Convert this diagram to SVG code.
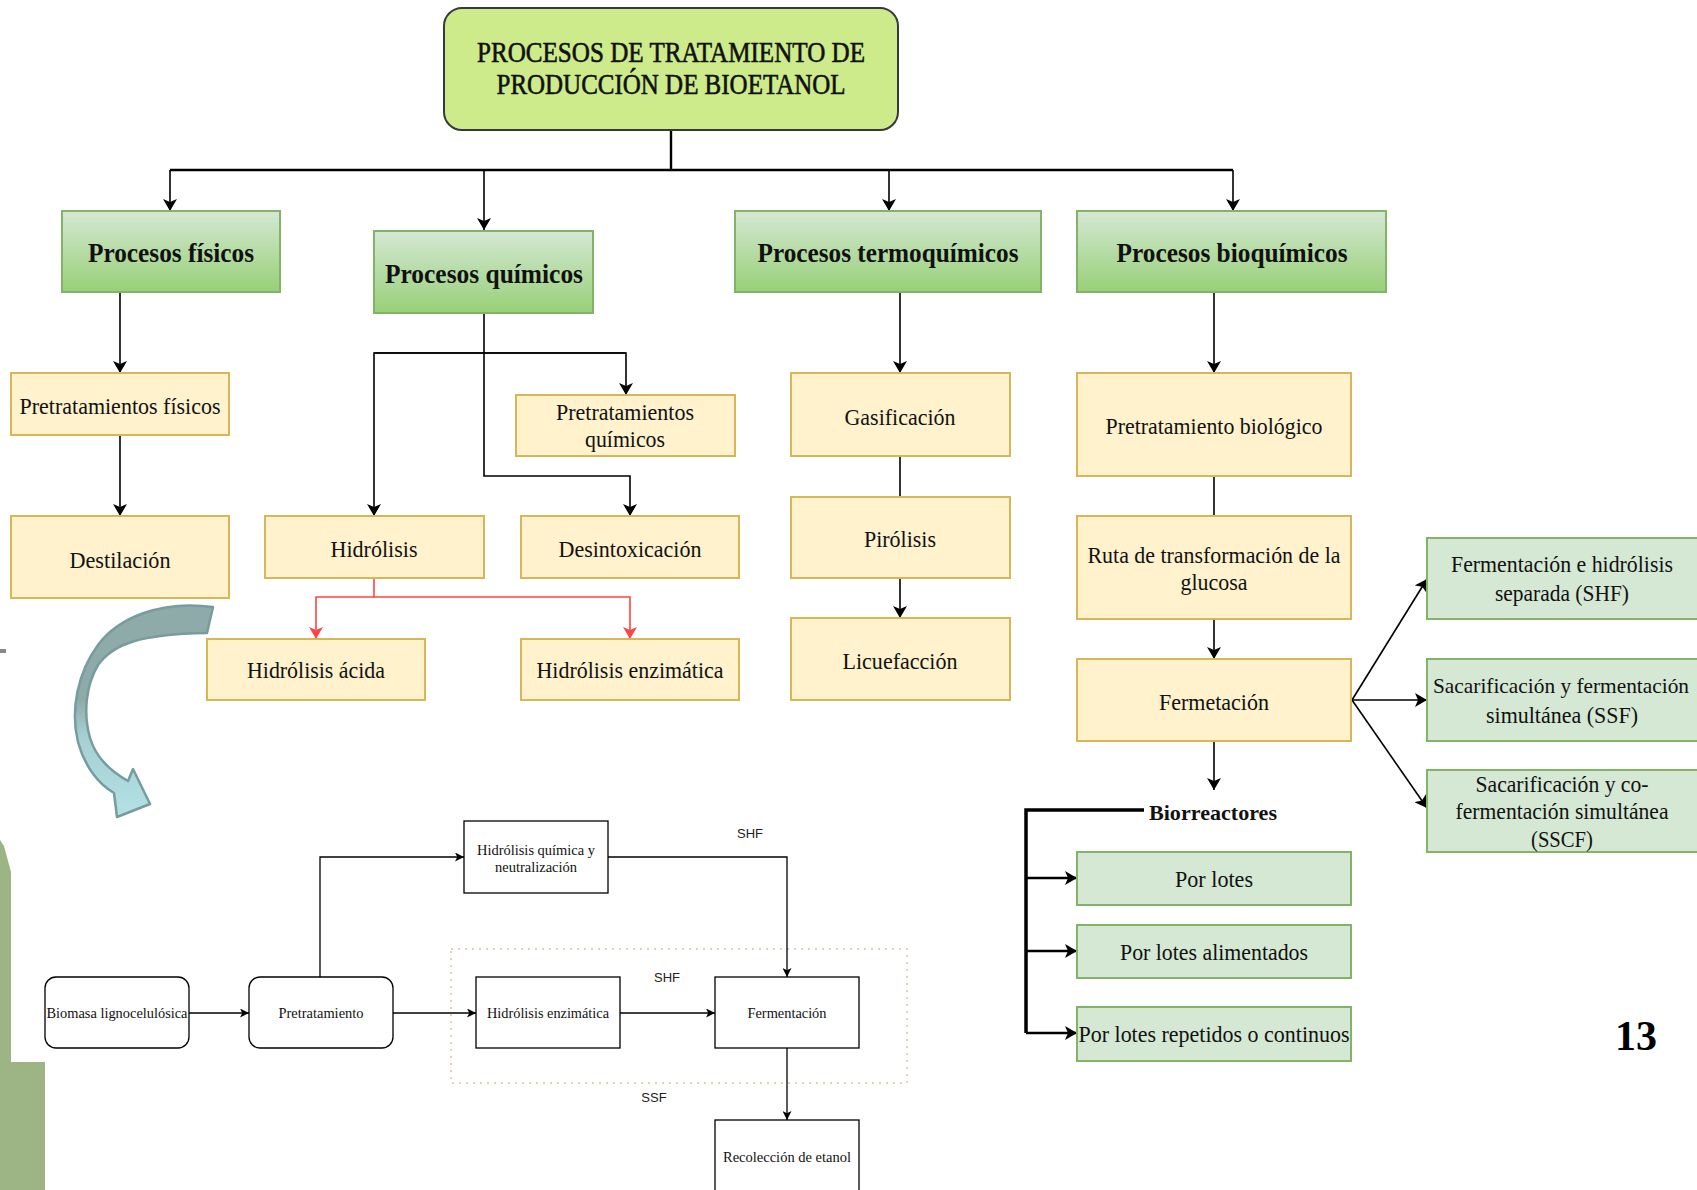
<svg xmlns="http://www.w3.org/2000/svg" width="1697" height="1190" viewBox="0 0 1697 1190">
<style>
.t{font-family:"Liberation Serif","Times New Roman",serif;fill:#111;text-anchor:middle;dominant-baseline:central}
.tb{font-weight:bold}
.yl{fill:#fff2cc;stroke:#d6b656;stroke-width:2}
.gn{fill:#d5e8d4;stroke:#82b366;stroke-width:2}
.gg{fill:url(#gg);stroke:#82b366;stroke-width:2}
.bx{fill:#fff;stroke:#000;stroke-width:1.3}
.c{fill:none;stroke:#000;stroke-width:1.6}
.c2{fill:none;stroke:#000;stroke-width:2.4}
.cr{fill:none;stroke:#ff4444;stroke-width:1.6}
.cs{fill:none;stroke:#000;stroke-width:1.3}
.lb{font-family:"Liberation Sans",Arial,sans-serif;font-size:13px;fill:#222;text-anchor:middle}
</style>
<defs>
<linearGradient id="gg" x1="0" y1="0" x2="0" y2="1">
<stop offset="0" stop-color="#d5e8d4"/><stop offset="1" stop-color="#97d077"/>
</linearGradient>
<linearGradient id="ca" x1="0" y1="600" x2="0" y2="820" gradientUnits="userSpaceOnUse">
<stop offset="0" stop-color="#8eaaa9"/><stop offset="0.45" stop-color="#8eaaa9"/><stop offset="0.62" stop-color="#a6d0d3"/><stop offset="1" stop-color="#b3e1e4"/>
</linearGradient>
<marker id="a" viewBox="0 0 12 14" refX="12" refY="7" markerWidth="12" markerHeight="14" markerUnits="userSpaceOnUse" orient="auto"><path d="M0,0 L12,7 L0,14 L3,7 z" fill="#000"/></marker>
<marker id="ar" viewBox="0 0 12 14" refX="12" refY="7" markerWidth="12" markerHeight="14" markerUnits="userSpaceOnUse" orient="auto"><path d="M0,0 L12,7 L0,14 L3,7 z" fill="#ff4444"/></marker>
<marker id="as" viewBox="0 0 10 10" refX="10" refY="5" markerWidth="9" markerHeight="9" markerUnits="userSpaceOnUse" orient="auto"><path d="M0,0 L10,5 L0,10 L2.5,5 z" fill="#000"/></marker>
</defs>
<rect x="0" y="0" width="1697" height="1190" fill="#fff"/>

<!-- side decorations -->
<path d="M0,840 L4,846 L11,872 L11,1062 L45,1062 L45,1190 L0,1190 Z" fill="#9db585"/>
<rect x="0" y="649" width="6" height="4" fill="#888"/>
<path d="M213,607 C160,600 118,618 98,645 C78,672 70,710 78,742 C85,768 100,785 114,793 L117,817 L150,804 L133,769 L128,781 C112,772 96,758 90,738 C83,713 86,685 98,665 C113,644 140,634 207,633 Z" fill="url(#ca)" stroke="#779c9e" stroke-width="2.5" stroke-linejoin="round"/>

<g id="connectors">
<path class="c2" d="M671,130 V170 M170,170 H1233"/>
<path class="c" d="M170,170 V211" marker-end="url(#a)"/>
<path class="c" d="M484,170 V230" marker-end="url(#a)"/>
<path class="c" d="M889,170 V211" marker-end="url(#a)"/>
<path class="c" d="M1233,170 V211" marker-end="url(#a)"/>
<path class="c" d="M120,292 V373" marker-end="url(#a)"/>
<path class="c" d="M120,435 V516" marker-end="url(#a)"/>
<path class="c" d="M484,313 V476 H630 V516" marker-end="url(#a)"/>
<path class="c" d="M626,353 H374 V516" marker-end="url(#a)"/>
<path class="c" d="M374,353 H626 V395" marker-end="url(#a)"/>
<path class="cr" d="M374,578 V597 H316 V639" marker-end="url(#ar)"/>
<path class="cr" d="M374,597 H630 V639" marker-end="url(#ar)"/>
<path class="c" d="M900,292 V373" marker-end="url(#a)"/>
<path class="c" d="M900,456 V497"/>
<path class="c" d="M900,578 V618" marker-end="url(#a)"/>
<path class="c" d="M1214,292 V373" marker-end="url(#a)"/>
<path class="c" d="M1214,476 V516"/>
<path class="c" d="M1214,619 V659" marker-end="url(#a)"/>
<path class="c" d="M1214,741 V790" marker-end="url(#a)"/>
<path class="c" d="M1352,700 L1427,579" marker-end="url(#a)"/>
<path class="c" d="M1352,700 H1427" marker-end="url(#a)"/>
<path class="c" d="M1352,700 L1427,808" marker-end="url(#a)"/>
<path fill="none" stroke="#000" stroke-width="3.5" d="M1144,810 H1026 V1033"/>
<path class="c2" d="M1026,878 H1077" marker-end="url(#a)"/>
<path class="c2" d="M1026,951 H1077" marker-end="url(#a)"/>
<path class="c2" d="M1026,1033 H1077" marker-end="url(#a)"/>
<!-- bottom flowchart -->
<rect x="451" y="949" width="456" height="134" fill="none" stroke="#d8c2a2" stroke-width="1.5" stroke-dasharray="2 5"/>
<path class="cs" d="M189,1013 H249" marker-end="url(#as)"/>
<path class="cs" d="M320,977 V857 H464" marker-end="url(#as)"/>
<path class="cs" d="M393,1013 H476" marker-end="url(#as)"/>
<path class="cs" d="M620,1013 H715" marker-end="url(#as)"/>
<path class="cs" d="M608,857 H787 V977" marker-end="url(#as)"/>
<path class="cs" d="M787,1048 V1120" marker-end="url(#as)"/>
<text class="lb" x="750" y="838">SHF</text>
<text class="lb" x="667" y="982">SHF</text>
<text class="lb" x="654" y="1102">SSF</text>
</g>

<g id="title">
<rect x="444" y="8" width="454" height="122" rx="18" fill="#cdeb8b" stroke="#36393d" stroke-width="2"/>
<text class="t" x="671" y="52" font-size="29" stroke="#111" stroke-width="0.6" textLength="388" lengthAdjust="spacingAndGlyphs">PROCESOS DE TRATAMIENTO DE</text>
<text class="t" x="671" y="84" font-size="29" stroke="#111" stroke-width="0.6" textLength="349" lengthAdjust="spacingAndGlyphs">PRODUCCIÓN DE BIOETANOL</text>
</g>

<g id="procesos-fisicos"><rect class="gg" x="62" y="211" width="218" height="81"/><text class="t tb" x="171" y="252" font-size="28" textLength="166" lengthAdjust="spacingAndGlyphs">Procesos físicos</text></g>
<g id="procesos-quimicos"><rect class="gg" x="374" y="231" width="219" height="82"/><text class="t tb" x="484" y="273" font-size="28" textLength="198" lengthAdjust="spacingAndGlyphs">Procesos químicos</text></g>
<g id="procesos-termoquimicos"><rect class="gg" x="735" y="211" width="306" height="81"/><text class="t tb" x="888" y="252" font-size="28" textLength="261" lengthAdjust="spacingAndGlyphs">Procesos termoquímicos</text></g>
<g id="procesos-bioquimicos"><rect class="gg" x="1077" y="211" width="309" height="81"/><text class="t tb" x="1232" y="252" font-size="28" textLength="231" lengthAdjust="spacingAndGlyphs">Procesos bioquímicos</text></g>

<g id="pretratamientos-fisicos"><rect class="yl" x="11" y="373" width="218" height="62"/><text class="t" x="120" y="406" font-size="23" textLength="201" lengthAdjust="spacingAndGlyphs">Pretratamientos físicos</text></g>
<g id="destilacion"><rect class="yl" x="11" y="516" width="218" height="82"/><text class="t" x="120" y="560" font-size="23" textLength="101" lengthAdjust="spacingAndGlyphs">Destilación</text></g>
<g id="pretratamientos-quimicos"><rect class="yl" x="516" y="395" width="219" height="61"/><text class="t" x="625" y="412" font-size="23" textLength="138" lengthAdjust="spacingAndGlyphs">Pretratamientos</text><text class="t" x="625" y="439" font-size="23" textLength="80" lengthAdjust="spacingAndGlyphs">químicos</text></g>
<g id="hidrolisis"><rect class="yl" x="265" y="516" width="219" height="62"/><text class="t" x="374" y="549" font-size="23" textLength="87" lengthAdjust="spacingAndGlyphs">Hidrólisis</text></g>
<g id="desintoxicacion"><rect class="yl" x="521" y="516" width="218" height="62"/><text class="t" x="630" y="549" font-size="23" textLength="143" lengthAdjust="spacingAndGlyphs">Desintoxicación</text></g>
<g id="hidrolisis-acida"><rect class="yl" x="207" y="639" width="218" height="61"/><text class="t" x="316" y="670" font-size="23" textLength="138" lengthAdjust="spacingAndGlyphs">Hidrólisis ácida</text></g>
<g id="hidrolisis-enzimatica"><rect class="yl" x="521" y="639" width="218" height="61"/><text class="t" x="630" y="670" font-size="23" textLength="187" lengthAdjust="spacingAndGlyphs">Hidrólisis enzimática</text></g>

<g id="gasificacion"><rect class="yl" x="791" y="373" width="219" height="83"/><text class="t" x="900" y="417" font-size="23" textLength="111" lengthAdjust="spacingAndGlyphs">Gasificación</text></g>
<g id="pirolisis"><rect class="yl" x="791" y="497" width="219" height="81"/><text class="t" x="900" y="539" font-size="23" textLength="72" lengthAdjust="spacingAndGlyphs">Pirólisis</text></g>
<g id="licuefaccion"><rect class="yl" x="791" y="618" width="219" height="82"/><text class="t" x="900" y="661" font-size="23" textLength="115" lengthAdjust="spacingAndGlyphs">Licuefacción</text></g>

<g id="pretratamiento-biologico"><rect class="yl" x="1077" y="373" width="274" height="103"/><text class="t" x="1214" y="426" font-size="23" textLength="217" lengthAdjust="spacingAndGlyphs">Pretratamiento biológico</text></g>
<g id="ruta-glucosa"><rect class="yl" x="1077" y="516" width="274" height="103"/><text class="t" x="1214" y="555" font-size="23" textLength="253" lengthAdjust="spacingAndGlyphs">Ruta de transformación de la</text><text class="t" x="1214" y="582" font-size="23" textLength="67" lengthAdjust="spacingAndGlyphs">glucosa</text></g>
<g id="fermetacion"><rect class="yl" x="1077" y="659" width="274" height="82"/><text class="t" x="1214" y="702" font-size="23" textLength="110" lengthAdjust="spacingAndGlyphs">Fermetación</text></g>

<g id="biorreactores"><text class="t tb" x="1213" y="812" font-size="22" textLength="128" lengthAdjust="spacingAndGlyphs">Biorreactores</text></g>
<g id="por-lotes"><rect class="gn" x="1077" y="852" width="274" height="53"/><text class="t" x="1214" y="879" font-size="23" textLength="78" lengthAdjust="spacingAndGlyphs">Por lotes</text></g>
<g id="por-lotes-alimentados"><rect class="gn" x="1077" y="925" width="274" height="53"/><text class="t" x="1214" y="952" font-size="23" textLength="188" lengthAdjust="spacingAndGlyphs">Por lotes alimentados</text></g>
<g id="por-lotes-repetidos"><rect class="gn" x="1077" y="1007" width="274" height="54"/><text class="t" x="1214" y="1034" font-size="23" textLength="271" lengthAdjust="spacingAndGlyphs">Por lotes repetidos o continuos</text></g>

<g id="shf"><rect class="gn" x="1427" y="538" width="271" height="81"/><text class="t" x="1562" y="564" font-size="23" textLength="222" lengthAdjust="spacingAndGlyphs">Fermentación e hidrólisis</text><text class="t" x="1562" y="593" font-size="23" textLength="134" lengthAdjust="spacingAndGlyphs">separada (SHF)</text></g>
<g id="ssf"><rect class="gn" x="1427" y="659" width="271" height="82"/><text class="t" x="1561" y="686" font-size="21.5" textLength="256" lengthAdjust="spacingAndGlyphs">Sacarificación y fermentación</text><text class="t" x="1562" y="715" font-size="23" textLength="152" lengthAdjust="spacingAndGlyphs">simultánea (SSF)</text></g>
<g id="sscf"><rect class="gn" x="1427" y="770" width="271" height="82"/><text class="t" x="1562" y="784" font-size="23" textLength="173" lengthAdjust="spacingAndGlyphs">Sacarificación y co-</text><text class="t" x="1562" y="811" font-size="23" textLength="213" lengthAdjust="spacingAndGlyphs">fermentación simultánea</text><text class="t" x="1562" y="839" font-size="23" textLength="62" lengthAdjust="spacingAndGlyphs">(SSCF)</text></g>

<g id="biomasa"><rect class="bx" x="45" y="977" width="144" height="71" rx="11"/><text class="t" x="117" y="1013" font-size="14" textLength="141" lengthAdjust="spacingAndGlyphs">Biomasa lignocelulósica</text></g>
<g id="pretratamiento"><rect class="bx" x="249" y="977" width="144" height="71" rx="11"/><text class="t" x="321" y="1013" font-size="14" textLength="85" lengthAdjust="spacingAndGlyphs">Pretratamiento</text></g>
<g id="hidrolisis-quimica"><rect class="bx" x="464" y="821" width="144" height="72"/><text class="t" x="536" y="850" font-size="14" textLength="118" lengthAdjust="spacingAndGlyphs">Hidrólisis química y</text><text class="t" x="536" y="867" font-size="14" textLength="82" lengthAdjust="spacingAndGlyphs">neutralización</text></g>
<g id="hidrolisis-enz-b"><rect class="bx" x="476" y="977" width="144" height="71"/><text class="t" x="548" y="1013" font-size="14" textLength="122" lengthAdjust="spacingAndGlyphs">Hidrólisis enzimática</text></g>
<g id="fermentacion-b"><rect class="bx" x="715" y="977" width="144" height="71"/><text class="t" x="787" y="1013" font-size="14" textLength="79" lengthAdjust="spacingAndGlyphs">Fermentación</text></g>
<g id="recoleccion"><rect class="bx" x="715" y="1120" width="144" height="80"/><text class="t" x="787" y="1157" font-size="14" textLength="128" lengthAdjust="spacingAndGlyphs">Recolección de etanol</text></g>

<text x="1636" y="1050" font-family="Liberation Serif,serif" font-weight="bold" font-size="42" text-anchor="middle" fill="#000">13</text>
</svg>
